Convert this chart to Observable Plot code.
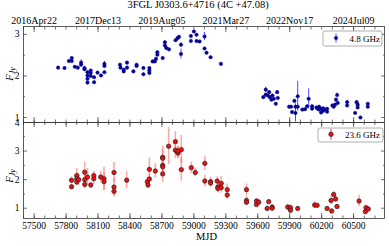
<!DOCTYPE html>
<html><head><meta charset="utf-8">
<script src="https://cdn.jsdelivr.net/npm/d3@7"></script>
<script src="https://cdn.jsdelivr.net/npm/@observablehq/plot@0.6"></script>
<style>
body{margin:0;background:#fff;}
#wrap{position:relative;width:389px;height:246px;font-family:"Liberation Serif",serif;color:#000;}
#title{position:absolute;top:-1px;left:0;width:396px;text-align:center;font-size:10.5px;line-height:12px;}
#wrap svg{position:absolute;left:0;}
</style>
</head><body>
<div id="wrap"><div id="title">3FGL J0303.6+4716 (4C +47.08)</div></div>
<script>
// ---- data: 4.8 GHz ----
const mjd48 = [57725,57785,57826,57853,57853,57882,57910,57941,57941,57973,
57973,58001,58001,58001,58001,58031,58031,58031,58063,58063,
58095,58128,58160,58160,58160,58306,58311,58341,58341,58372,
58372,58432,58462,58462,58526,58526,58582,58582,58582,58613,
58634,58644,58657,58657,58707,58728,58728,58741,58766,58828,
58847,58860,58879,58879,58972,58972,59000,59025,59025,59054,
59100,59100,59119,59157,59254,59652,59675,59675,59694,59707,
59713,59729,59738,59751,59769,59782,59788,59894,59913,59922,
59944,59954,59954,59975,59975,60019,60044,60063,60078,60110,
60110,60151,60163,60176,60176,60195,60195,60214,60214,60229,
60251,60251,60301,60313,60326,60335,60345,60351,60439,60439,
60514,60528,60538,60538,60564,60633,60633];
const flux48 = [2.20,2.19,2.36,2.43,2.36,2.22,2.20,2.32,2.27,2.19,
2.16,2.09,2.01,1.93,1.84,2.13,2.07,2.00,1.97,1.85,
2.08,2.01,2.29,2.24,2.09,2.27,2.20,2.11,2.15,2.32,
2.20,2.11,2.27,2.24,2.19,2.04,2.19,2.13,2.07,2.35,
2.35,2.41,2.57,2.51,2.43,2.81,2.73,2.67,2.64,2.86,
2.91,2.94,2.75,2.53,2.96,2.84,3.07,2.99,2.84,2.83,
2.95,2.66,2.56,2.45,2.29,1.49,1.67,1.55,1.53,1.61,
1.49,1.43,1.53,1.45,1.33,1.61,1.47,1.26,1.26,1.13,
1.40,1.26,1.11,1.51,1.26,1.19,1.20,1.27,1.45,1.27,
1.21,1.24,1.21,1.26,1.19,1.21,1.12,1.22,1.16,1.19,
1.21,1.14,1.29,1.26,1.31,1.43,1.54,1.35,1.37,1.29,
1.11,1.37,1.31,1.24,1.00,1.33,1.26];
const err48 = [.03,.03,.03,.03,.03,.03,.03,.07,.03,.03,
.03,.03,.03,.03,.03,.03,.03,.03,.03,.03,
.03,.03,.06,.03,.03,.03,.03,.03,.03,.03,
.03,.03,.03,.03,.03,.03,.03,.03,.03,.03,
.03,.03,.04,.03,.03,.04,.03,.03,.03,.04,
.04,.03,.05,.12,.03,.04,.03,.03,.03,.03,
.10,.03,.03,.03,.03,.03,.06,.03,.03,.03,
.03,.03,.03,.03,.03,.03,.03,.03,.03,.03,
.03,.03,.22,.36,.03,.03,.03,.03,.24,.03,
.03,.03,.03,.03,.03,.03,.05,.03,.03,.03,
.03,.03,.03,.03,.03,.03,.05,.03,.03,.03,
.03,.03,.03,.03,.03,.03,.03];

// ---- data: 23.6 GHz ----
const mjd236 = [57851,57851,57900,57900,57900,57919,57975,57975,57975,58001,
58032,58060,58060,58125,58156,58156,58250,58250,58250,58369,
58563,58569,58582,58582,58638,58707,58707,58707,58707,58707,
58763,58826,58826,58850,58850,58850,58882,58882,58976,59013,
59103,59103,59157,59157,59219,59225,59225,59257,59257,59313,
59313,59494,59494,59494,59588,59588,59609,59688,59703,59735,
59735,59881,59907,59907,59975,60134,60157,60251,60288,60294,
60313,60331,60344,60551,60610,60616,60638];
const flux236 = [1.98,1.75,2.14,2.03,1.92,2.00,2.26,2.00,1.83,2.09,
1.81,2.03,2.14,2.09,2.03,1.93,2.25,1.74,1.59,1.98,
1.93,1.81,2.02,2.36,2.30,2.78,2.75,2.50,2.45,2.20,
3.17,3.33,3.03,2.96,2.93,3.00,3.05,2.35,2.42,2.25,
2.57,1.95,1.93,1.88,1.95,1.74,1.69,1.87,1.72,1.65,
1.46,1.65,1.27,1.21,1.25,1.13,1.21,0.99,1.23,1.04,
1.00,1.04,1.02,0.93,0.99,1.11,1.10,0.99,1.27,0.90,
1.48,1.32,1.06,1.25,0.88,1.02,0.97];
const err236 = [.12,.10,.25,.20,.15,.20,.35,.20,.15,.30,
.10,.20,.15,.20,.40,.30,.35,.30,.20,.30,
.15,.10,.20,.40,.25,.40,.30,.30,.25,.30,
.65,.35,.30,.20,.20,.15,.50,.40,.20,.15,
.25,.20,.15,.15,.15,.20,.15,.25,.20,.20,
.15,.20,.15,.10,.10,.10,.10,.10,.08,.10,
.08,.10,.10,.10,.08,.12,.08,.08,.15,.08,
.10,.10,.08,.20,.08,.08,.08];

// ---- ticks / labels ----
const dateTicks = [57500,58100,58700,59300,59900,60500];
const dateLabels = ["2016Apr22","2017Dec13","2019Aug05","2021Mar27","2022Nov17","2024Jul09"];
const mjdTicks = [57500,57800,58100,58400,58700,59000,59300,59600,59900,60200,60500];
const minorX = d3.range(57400, 60790, 100);
const seriesNames = ["4.8 GHz","23.6 GHz"];

const rows48 = mjd48.map((m,i)=>({x:m, y:flux48[i], e:err48[i]}));
const rows236 = mjd236.map((m,i)=>({x:m, y:flux236[i], e:err236[i]}));

const W = 389, ML = 23, MR = 5;
const xDomain = [57400, 60790];
const frameCol = "#333";
const font = "Liberation Serif";
const blank = () => "";

function tickAxes(anchor, ticks, size){
  return Plot.axisX(ticks, {anchor, tickSize:-size, tickFormat:blank, stroke:frameCol, strokeWidth:0.7});
}
function tickAxesY(anchor, ticks, size){
  return Plot.axisY(ticks, {anchor, tickSize:-size, tickFormat:blank, stroke:frameCol, strokeWidth:0.7});
}

const topPlot = Plot.plot({
  width: W, height: 122,
  marginLeft: ML, marginRight: MR, marginTop: 26, marginBottom: 0,
  style: {fontFamily: font, fontSize: "9.5px", background: "transparent", overflow: "visible", color:"#000"},
  x: {domain: xDomain, label: null},
  y: {domain: [0.88, 3.19], label: null},
  marks: [
    Plot.frame({stroke: frameCol, strokeWidth: 0.8}),
    Plot.axisX(dateTicks, {anchor:"top", tickSize:0, tickPadding:2.5, fontSize:10, tickFormat: d => dateLabels[dateTicks.indexOf(d)]}),
    tickAxes("top", minorX, 2.5),
    tickAxes("top", dateTicks, 5),
    tickAxes("bottom", minorX, 2.5),
    tickAxes("bottom", dateTicks, 5),
    Plot.axisY([1,2,3], {anchor:"left", tickSize:0, tickPadding:4}),
    tickAxesY("left", [1,2,3], 4),
    tickAxesY("right", [1,2,3], 4),
    tickAxesY("left", [1.5,2.5], 2),
    tickAxesY("right", [1.5,2.5], 2),
    Plot.ruleX(rows48, {x:"x", y1: d=>d.y-d.e, y2: d=>d.y+d.e, stroke:"#4a4aff", strokeWidth:1}),
    Plot.dot(rows48, {x:"x", y:"y", r:1.8, fill:"#00008b", stroke:"#1a1ab0", strokeWidth:0.4})
  ]
});

const botPlot = Plot.plot({
  width: W, height: 124,
  marginLeft: ML, marginRight: MR, marginTop: 0, marginBottom: 28,
  style: {fontFamily: font, fontSize: "9.5px", background: "transparent", overflow: "visible", color:"#000"},
  x: {domain: xDomain, label: null},
  y: {domain: [0.64, 4.0], label: null},
  marks: [
    Plot.frame({stroke: frameCol, strokeWidth: 0.8}),
    Plot.axisX(mjdTicks, {anchor:"bottom", tickSize:0, tickPadding:4, tickFormat: d => String(d)}),
    tickAxes("top", minorX, 2),
    tickAxes("top", mjdTicks, 4),
    tickAxes("bottom", minorX, 2.5),
    tickAxes("bottom", mjdTicks, 5),
    Plot.axisY([1,2,3,4], {anchor:"left", tickSize:0, tickPadding:4}),
    tickAxesY("left", [1,2,3,4], 4),
    tickAxesY("right", [1,2,3,4], 4),
    tickAxesY("left", [1.5,2.5,3.5], 2),
    tickAxesY("right", [1.5,2.5,3.5], 2),
    Plot.text(["MJD"], {frameAnchor:"bottom", dy:21, dx:2.5, fontSize:10.5}),
    Plot.ruleX(rows236, {x:"x", y1: d=>d.y-d.e, y2: d=>d.y+d.e, stroke:"#ff7070", strokeOpacity:0.6, strokeWidth:1.6}),
    Plot.dot(rows236, {x:"x", y:"y", r:2.2, fill:"#f01010", stroke:"#222", strokeWidth:0.7})
  ]
});

const wrap = document.getElementById("wrap");
topPlot.style.top = "0px";
botPlot.style.top = "122px";
wrap.appendChild(topPlot);
wrap.appendChild(botPlot);

function yLabel(svg, cy){
  const t = d3.select(svg).append("text")
    .attr("transform", `translate(12.5,${cy}) rotate(-90)`)
    .attr("text-anchor","middle")
    .style("font-family", font).style("font-size","10.5px").style("font-style","italic").attr("fill","#000");
  t.append("tspan").text("F");
  t.append("tspan").attr("dy", 2.5).style("font-size","8px").text("Jy");
}
yLabel(topPlot, 74);
yLabel(botPlot, 54);

function legend(svg, box, mx, my, bar, lineCol, lineW, dotFill, dotStroke, r, label, ty){
  const g = d3.select(svg).append("g");
  g.append("rect").attr("x",box[0]).attr("y",box[1]).attr("width",box[2]).attr("height",box[3])
    .attr("rx",2).attr("fill","#fff").attr("stroke","#999").attr("stroke-width",0.8);
  g.append("line").attr("x1",mx).attr("x2",mx).attr("y1",my-bar).attr("y2",my+bar)
    .attr("stroke",lineCol).attr("stroke-width",lineW);
  g.append("circle").attr("cx",mx).attr("cy",my).attr("r",r).attr("fill",dotFill).attr("stroke",dotStroke).attr("stroke-width", dotStroke==="#222"?0.7:0.4);
  g.append("text").attr("x",380).attr("y",ty).attr("text-anchor","end")
    .style("font-family",font).style("font-size","9px").attr("fill","#000").text(label);
}
legend(topPlot, [323,31,59,15], 336, 38, 4.5, "#4a4aff", 1, "#00008b", "#1a1ab0", 1.8, seriesNames[0], 41.5);
legend(botPlot, [318,6,65,14], 331, 12.3, 5.5, "#ff8080", 1.6, "#f01010", "#222", 2.2, seriesNames[1], 16);
</script>
</body></html>
